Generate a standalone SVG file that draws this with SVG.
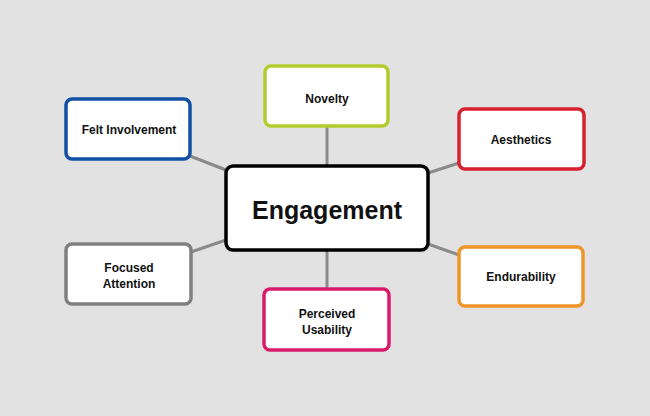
<svg xmlns="http://www.w3.org/2000/svg" width="650" height="416" viewBox="0 0 650 416">
<style>
.box{fill:#fff;stroke-width:3.5}
.lbl{font-family:"Liberation Sans",Arial,sans-serif;font-weight:bold;font-size:12px;fill:#111;text-anchor:middle}
.main{font-size:25px}
.con line{stroke:#8a8a8a;stroke-width:3}
</style>
<rect width="650" height="416" fill="#e2e2e2"/>
<g class="con">
<line x1="190" y1="156" x2="226" y2="170"/>
<line x1="327" y1="126" x2="327" y2="166"/>
<line x1="459" y1="163" x2="428" y2="173"/>
<line x1="191" y1="252" x2="226" y2="240"/>
<line x1="327" y1="250" x2="327" y2="289"/>
<line x1="428" y1="244" x2="459" y2="255"/>
</g>
<g id="engagement">
<rect class="box" x="226" y="166" width="202" height="84" rx="7" stroke="#000" stroke-width="4"/>
<text class="lbl main" x="327" y="219">Engagement</text>
</g>
<g id="felt-involvement">
<rect class="box" x="66" y="99" width="124" height="60" rx="6" stroke="#1150a4"/>
<text class="lbl" x="129" y="134">Felt Involvement</text>
</g>
<g id="novelty">
<rect class="box" x="265" y="66" width="123" height="60" rx="6" stroke="#b4cb2f"/>
<text class="lbl" x="327" y="103">Novelty</text>
</g>
<g id="aesthetics">
<rect class="box" x="459" y="109" width="125" height="60" rx="6" stroke="#d8202f"/>
<text class="lbl" x="521" y="144">Aesthetics</text>
</g>
<g id="focused-attention">
<rect class="box" x="66" y="244" width="125" height="60" rx="6" stroke="#808080"/>
<text class="lbl" x="129" y="272">Focused</text>
<text class="lbl" x="129" y="288">Attention</text>
</g>
<g id="perceived-usability">
<rect class="box" x="264" y="289" width="125" height="61" rx="6" stroke="#d91b6b"/>
<text class="lbl" x="327" y="318">Perceived</text>
<text class="lbl" x="327" y="334">Usability</text>
</g>
<g id="endurability">
<rect class="box" x="459" y="247" width="124" height="59" rx="6" stroke="#ef9529"/>
<text class="lbl" x="521" y="281">Endurability</text>
</g>
</svg>
